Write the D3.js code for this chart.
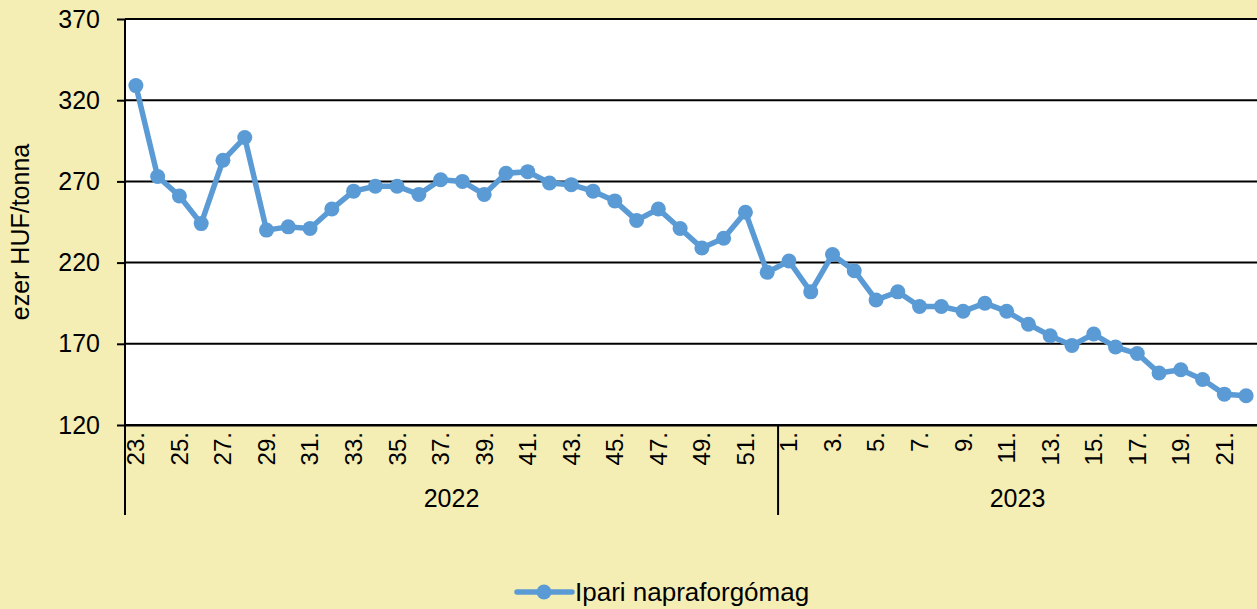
<!DOCTYPE html>
<html>
<head>
<meta charset="utf-8">
<script src="https://cdn.jsdelivr.net/npm/d3@7"></script>
<style>
  body { margin: 0; background: #f5eeb4; }
  svg { display: block; font-family: "Liberation Sans", Arial, sans-serif; }
</style>
</head>
<body>
<svg id="chart"></svg>
<script>
const weeks2022 = ['23.','24.','25.','26.','27.','28.','29.','30.','31.','32.','33.','34.','35.','36.','37.','38.','39.','40.','41.','42.','43.','44.','45.','46.','47.','48.','49.','50.','51.','52.'];
const weeks2023 = ['1.','2.','3.','4.','5.','6.','7.','8.','9.','10.','11.','12.','13.','14.','15.','16.','17.','18.','19.','20.','21.','22.'];
const values2022 = [329, 273, 261, 244, 283, 297, 240, 242, 241, 253, 264, 267, 267, 262, 271, 270, 262, 275, 276, 269, 268, 264, 258, 246, 253, 241, 229, 235, 251, 214];
const values2023 = [221, 202, 225, 215, 197, 202, 193, 193, 190, 195, 190, 182, 175, 169, 176, 168, 164, 152, 154, 148, 139, 138];
const years = ['2022', '2023'];
const yTicks = [120, 170, 220, 270, 320, 370];
const seriesName = 'Ipari napraforgómag';

const width = 1257, height = 609;
const margin = { top: 19, right: 0, bottom: 184, left: 125 };
const font = '"Liberation Sans", Arial, sans-serif';

const data = [
  ...weeks2022.map((w, i) => ({ key: '2022-' + w, week: w, year: '2022', value: values2022[i] })),
  ...weeks2023.map((w, i) => ({ key: '2023-' + w, week: w, year: '2023', value: values2023[i] }))
];

const svg = d3.select('#chart')
  .attr('width', width)
  .attr('height', height);

svg.append('rect')
  .attr('width', width)
  .attr('height', height)
  .attr('fill', '#f5eeb4');

const x = d3.scaleBand()
  .domain(data.map(d => d.key))
  .range([margin.left, width - margin.right]);

const y = d3.scaleLinear()
  .domain([120, 370])
  .range([height - margin.bottom, margin.top]);

// plot area
svg.append('rect')
  .attr('x', margin.left)
  .attr('y', margin.top)
  .attr('width', width - margin.right - margin.left)
  .attr('height', y(120) - margin.top)
  .attr('fill', '#fff');

// gridlines
svg.append('g')
  .selectAll('line')
  .data(yTicks)
  .join('line')
  .attr('x1', margin.left)
  .attr('x2', width - margin.right)
  .attr('y1', d => y(d))
  .attr('y2', d => y(d))
  .attr('stroke', '#000')
  .attr('stroke-width', 2);

// y axis
const yAxis = svg.append('g')
  .attr('transform', `translate(${margin.left},0)`)
  .call(d3.axisLeft(y).tickValues(yTicks).tickSize(8).tickPadding(17));
yAxis.select('.domain').remove();
yAxis.selectAll('line').attr('stroke', '#000').attr('stroke-width', 2);
yAxis.selectAll('text').attr('font-size', '25px').attr('fill', '#000')
  .attr('font-family', font);

// left axis line
svg.append('line')
  .attr('x1', margin.left).attr('x2', margin.left)
  .attr('y1', margin.top).attr('y2', 515)
  .attr('stroke', '#000').attr('stroke-width', 2);

// x axis
const xAxis = svg.append('g')
  .attr('transform', `translate(0,${y(120)})`)
  .call(d3.axisBottom(x)
    .tickSize(0)
    .tickFormat(k => data.find(d => d.key === k).week));
xAxis.select('.domain').attr('stroke', '#000').attr('stroke-width', 2);
xAxis.selectAll('.tick')
  .filter((k, i) => i % 2 === 1)
  .remove();
xAxis.selectAll('text')
  .attr('font-size', '24px')
  .attr('fill', '#000')
  .attr('font-family', font)
  .attr('transform', 'rotate(-90)')
  .attr('x', -7)
  .attr('y', 0)
  .attr('dy', '0.35em')
  .style('text-anchor', 'end');

// year groups
years.forEach(yr => {
  const items = data.filter(d => d.year === yr);
  const x0 = x(items[0].key);
  const x1 = x(items[items.length - 1].key) + x.bandwidth();
  if (x1 < width - 1) {
    svg.append('line')
      .attr('x1', x1).attr('x2', x1)
      .attr('y1', y(120)).attr('y2', 515)
      .attr('stroke', '#000').attr('stroke-width', 2);
  }
  svg.append('text')
    .attr('x', (x0 + x1) / 2)
    .attr('y', 507)
    .attr('text-anchor', 'middle')
    .attr('font-size', '25px')
    .attr('fill', '#000')
    .text(yr);
});

// y title
svg.append('text')
  .attr('transform', `translate(29,${(margin.top + y(120)) / 2 + 10}) rotate(-90)`)
  .attr('text-anchor', 'middle')
  .attr('font-size', '25px')
  .attr('fill', '#000')
  .text('ezer HUF/tonna');

const color = '#5b9bd5';
const cx = d => x(d.key) + x.bandwidth() / 2;

svg.append('path')
  .datum(data)
  .attr('fill', 'none')
  .attr('stroke', color)
  .attr('stroke-width', 5.5)
  .attr('stroke-linejoin', 'round')
  .attr('d', d3.line().x(cx).y(d => y(d.value)));

svg.append('g')
  .selectAll('circle')
  .data(data)
  .join('circle')
  .attr('cx', cx)
  .attr('cy', d => y(d.value))
  .attr('r', 7.5)
  .attr('fill', color);

// legend
const lg = svg.append('g').attr('transform', 'translate(517,592)');
lg.append('line')
  .attr('x1', 0).attr('x2', 55)
  .attr('stroke', color).attr('stroke-width', 5.5).attr('stroke-linecap', 'round');
lg.append('circle').attr('cx', 27).attr('r', 7.5).attr('fill', color);
lg.append('text')
  .attr('x', 58)
  .attr('dy', '0.35em')
  .attr('font-size', '26px')
  .attr('fill', '#000')
  .text(seriesName);
</script>
</body>
</html>
